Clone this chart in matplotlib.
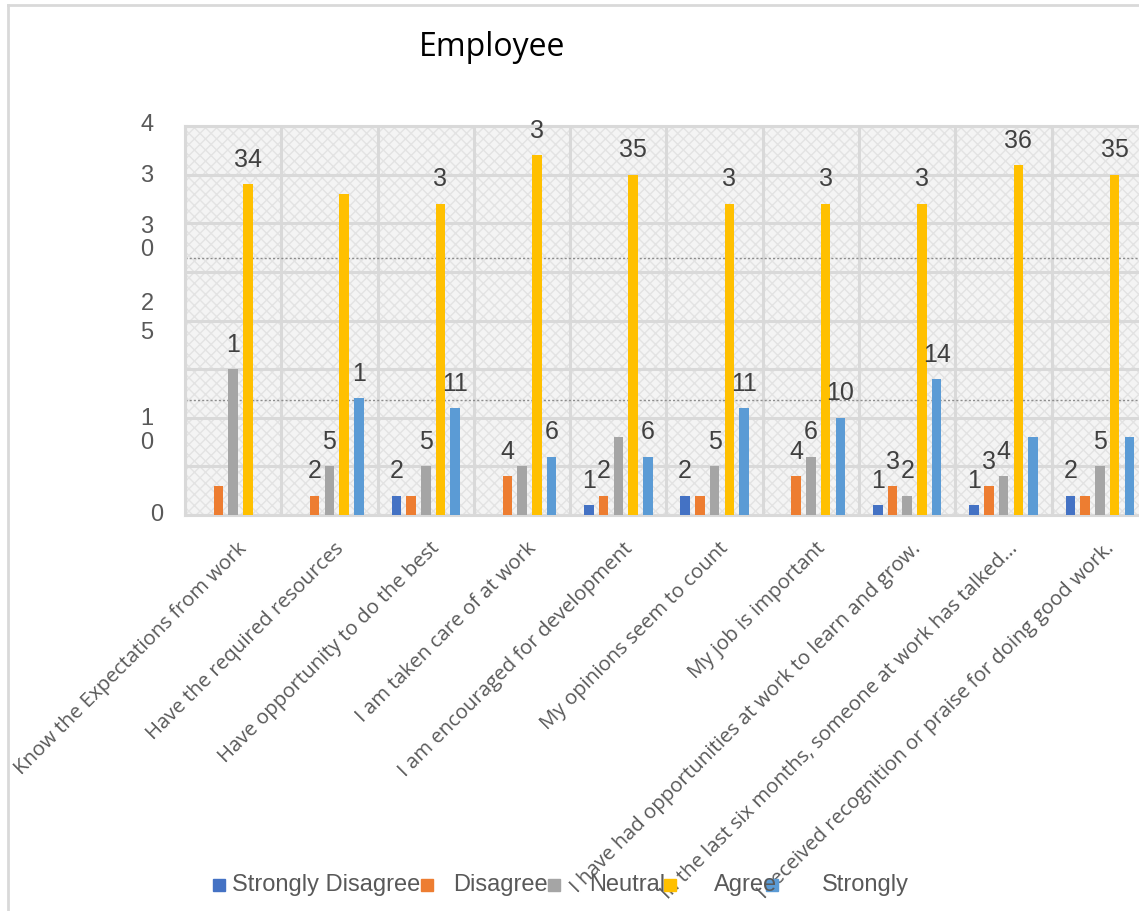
import numpy as np
import matplotlib
matplotlib.use('Agg')
import matplotlib.pyplot as plt
import matplotlib.transforms as mtransforms
from matplotlib.patches import Rectangle
from matplotlib.lines import Line2D

plt.rcParams['font.family'] = ['Liberation Sans', 'DejaVu Sans']

# survey items (x axis)
categories = [
    'Know the Expectations from work',
    'Have the required resources',
    'Have opportunity to do the best',
    'I am taken care of at work',
    'I am encouraged for development',
    'My opinions seem to count',
    'My job is important',
    'I have had opportunities at work to learn and grow.',
    'In the last six months, someone at work has talked...',
    'I received recognition or praise for doing good work.',
]

# response counts per answer
strongly_disagree = [0, 0, 2, 0, 1, 2, 0, 1, 1, 2]
disagree = [3, 2, 2, 4, 2, 2, 4, 3, 3, 2]
neutral = [15, 5, 5, 5, 8, 5, 6, 2, 4, 5]
agree = [34, 33, 32, 37, 35, 32, 32, 32, 36, 35]
strongly_agree = [0, 12, 11, 6, 6, 11, 10, 14, 8, 8]

series_names = ['Strongly Disagree', 'Disagree', 'Neutral', 'Agree', 'Strongly']

# data labels: 0 = hidden, 1 = full value, 2 = only first digit fits
label_mode = [
    [0, 0, 1, 0, 1, 1, 0, 1, 1, 1],
    [0, 1, 0, 1, 1, 0, 1, 1, 1, 0],
    [2, 1, 1, 0, 0, 1, 1, 1, 1, 1],
    [1, 0, 2, 2, 1, 2, 2, 2, 1, 1],
    [0, 2, 1, 1, 1, 1, 1, 1, 0, 0],
]

# value axis ticks, some wrapped / clipped in the narrow label column
ytick_text = ['4', '3', '3', '0', '2', '5', '1', '0', '0']
ytick_pos = [40.1, 34.9, 29.6, 27.3, 21.7, 18.7, 9.9, 7.4, 0.0]

colors = ['#4472C4', '#ED7D31', '#A5A5A5', '#FFC000', '#5B9BD5']
grid_c = '#D9D9D9'
text_c = '#404040'

W, H = 1139, 911
fig = plt.figure(figsize=(W / 100, H / 100), dpi=100)

# chart-area border (only top and left fall inside the image)
fig.add_artist(Line2D([8 / W, 1], [1 - 5 / H, 1 - 5 / H], color=grid_c, lw=2))
fig.add_artist(Line2D([8 / W, 8 / W], [0, 1 - 5 / H], color=grid_c, lw=2))

left, right, bottom, top = 185, 185 + 963, 515, 126
ax = fig.add_axes([left / W, 1 - bottom / H, (right - left) / W, (bottom - top) / H])

# textured plot background
ax.patch.set_facecolor('white')
ax.add_patch(Rectangle((0, 0), 1, 1, transform=ax.transAxes, facecolor='#F4F4F4',
                       edgecolor='#E3E3E3', lw=0, hatch='xxx', zorder=0))

data = [strongly_disagree, disagree, neutral, agree, strongly_agree]
x = np.arange(len(categories))
step = 0.153
bw = 0.099
for i, vals in enumerate(data):
    xs = x + (i - 2) * step
    ax.bar(xs, vals, width=bw, color=colors[i], zorder=3)
    for j, v in enumerate(vals):
        mode = label_mode[i][j]
        if mode == 0:
            continue
        s = str(v) if mode == 1 else str(v)[0]
        ax.text(xs[j], v + 2.5, s, ha='center', va='center', fontsize=18,
                color=text_c, zorder=5)

ax.set_xlim(-0.5, len(categories) - 0.5)
ax.set_ylim(0, 40)

# gridlines
ax.set_yticks(np.arange(0, 41, 5))
ax.set_yticklabels([])
ax.set_xticks(np.arange(len(categories) + 1) - 0.5, minor=True)
ax.grid(True, axis='y', which='major', color=grid_c, lw=2.2, zorder=1)
ax.grid(True, axis='x', which='minor', color=grid_c, lw=2.2, zorder=1)
ax.tick_params(axis='both', which='both', length=0)
for side in ['left', 'bottom', 'top', 'right']:
    ax.spines[side].set_color(grid_c)
    ax.spines[side].set_linewidth(2.2)

# dotted reference lines across the plot
for yv in [26.4, 11.8]:
    ax.axhline(yv, color='#8C8C8C', lw=1.0, ls=(0, (1.5, 1.5)), zorder=2)

# value axis labels
ylab_tr = mtransforms.blended_transform_factory(fig.transFigure, ax.transData)
for k, (t, yv) in enumerate(zip(ytick_text, ytick_pos)):
    xx = 157 if k == len(ytick_text) - 1 else 147
    ax.text(xx / W, yv, t, transform=ylab_tr, ha='center', va='center',
            fontsize=17, color='#595959')

# category labels
ax.set_xticks(x)
ax.set_xticklabels(categories, rotation=45, ha='right', va='top',
                   rotation_mode='anchor', fontsize=14.7, color='#595959',
                   family=['Open Sans', 'DejaVu Sans'])
ax.tick_params(axis='x', pad=17)
off = mtransforms.ScaledTranslation(4 / 100, 0, fig.dpi_scale_trans)
for lab in ax.get_xticklabels():
    lab.set_transform(lab.get_transform() + off)

# title
fig.text(492 / W, 1 - 48 / H, 'Employee', ha='center', va='center',
         fontsize=23, color='#000000', family=['Open Sans', 'DejaVu Sans'])

# legend row
mark_x = [219, 427, 554, 670, 772]
text_x = [232, 453, 589, 714, 822]
ly = 1 - 885 / H
for c, mx, tx, name in zip(colors, mark_x, text_x, series_names):
    fig.add_artist(Rectangle((mx / W - 6 / W, ly - 6 / H), 12 / W, 12 / H,
                             transform=fig.transFigure, color=c))
    fig.text(tx / W, ly, name, ha='left', va='center', fontsize=17, color='#595959')

fig.savefig('out.png', dpi=100)
